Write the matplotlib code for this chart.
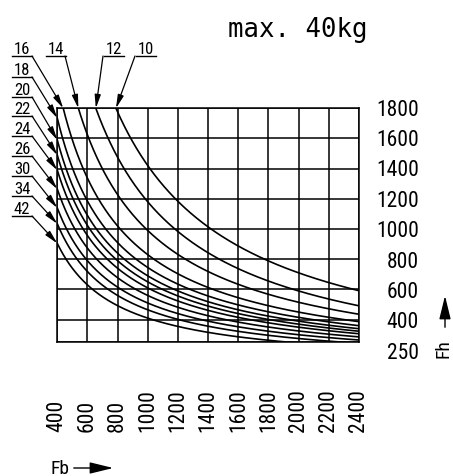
import numpy as np
import matplotlib
matplotlib.use("Agg")
import matplotlib.pyplot as plt
from matplotlib import font_manager as fm
from matplotlib.transforms import blended_transform_factory

# ---------------- data ----------------
thickness = [10, 12, 14, 16, 18, 20, 22, 24, 26, 30, 34, 42]          # curve labels
curve_a = [1.42e6, 1.18e6, 0.95e6, 0.76e6, 0.66e6, 0.60e6,
           0.56e6, 0.52e6, 0.47e6, 0.42e6, 0.38e6, 0.33e6]          # hyperbolic part
curve_c = [0, 0, 40, 70, 85, 90, 90, 90, 90, 90, 85, 80]             # offset part
fb_ticks = [400, 600, 800, 1000, 1200, 1400, 1600, 1800, 2000, 2200, 2400]
fh_ticks = [1800, 1600, 1400, 1200, 1000, 800, 600, 400, 250]
top_labels = ["16", "14", "12", "10"]
left_labels = ["18", "20", "22", "24", "26", "30", "34", "42"]
title = "max. 40kg"
xlabel = "Fb"
ylabel = "Fh"


# ---------- pick a narrow sans font if one is installed ----------
def pick_font():
    prefs = ["liberation sans narrow", "roboto condensed", "noto sans",
             "open sans", "dejavu sans", "arimo"]
    best = None
    for f in fm.fontManager.ttflist:
        name = f.name.lower()
        st = str(f.stretch).lower()
        narrow = ("narrow" in name or "condensed" in name or "condensed" in st
                  or "narrow" in f.fname.lower() or "condensed" in f.fname.lower())
        if not narrow:
            continue
        if f.style != "normal":
            continue
        w = f.weight if isinstance(f.weight, int) else {"normal": 400, "regular": 400,
                                                          "light": 300, "book": 400}.get(str(f.weight).lower(), 700)
        if w > 450 or w < 250:
            continue
        if "extra" in f.fname.lower() or "semi" in f.fname.lower() or "mono" in name:
            continue
        rank = next((i for i, p in enumerate(prefs) if p in name), len(prefs))
        key = (rank, abs(w - 400))
        if best is None or key < best[0]:
            best = (key, f.fname)
    if best:
        return fm.FontProperties(fname=best[1]), True
    return fm.FontProperties(family=["Roboto", "DejaVu Sans"]), False


FP, NARROW = pick_font()

W, H = 453, 477
fig = plt.figure(figsize=(W / 100, H / 100), dpi=100)

TICK_SIZE = 15.5 if NARROW else 13
LAB_SIZE = 12 if NARROW else 10
AX_SIZE = 14 if NARROW else 12


def fx(x):
    return x / W


def fy(y):
    return 1 - y / H


L, R, T, B = 57.3, 359.0, 109.3, 343.3
ax = fig.add_axes([fx(L), fy(B), fx(R) - fx(L), fy(T) - fy(B)])
ax.set_xlim(fb_ticks[0], fb_ticks[-1])
ax.set_ylim(min(fh_ticks), max(fh_ticks))
ax.set_xticks([])
ax.set_yticks([])
for s in ax.spines.values():
    s.set_linewidth(1.1)
    s.set_color("black")

for v in fb_ticks:
    ax.axvline(v, color="black", lw=1.1, zorder=1)
for v in fh_ticks:
    ax.axhline(v, color="black", lw=1.1, zorder=1)

fb = np.linspace(fb_ticks[0], fb_ticks[-1], 600)
for a, c in zip(curve_a, curve_c):
    ax.plot(fb, a / fb + c, color="black", lw=1.2, zorder=2)

# y labels (right side, evenly spaced)
for i, v in enumerate(fh_ticks):
    fig.text(fx(419), fy(110.0 + i * 30.4), str(v), ha="right", va="center",
             fontproperties=FP, fontsize=TICK_SIZE, color="black")

# x labels (rotated, bottom aligned)
tr = blended_transform_factory(ax.transData, fig.transFigure)
for v in fb_ticks:
    ax.text(v, fy(432), str(v), rotation=90, ha="center", va="bottom",
            fontproperties=FP, fontsize=TICK_SIZE, color="black",
            transform=tr, clip_on=False)

# title
fig.text(fx(228), fy(37), title, ha="left", va="baseline",
         fontsize=18.5, family=["DejaVu Sans Mono"], color="black")

# axis names with arrows
fig.text(fx(50), fy(474), xlabel, ha="left", va="baseline",
         fontproperties=FP, fontsize=AX_SIZE)
fig.add_artist(matplotlib.patches.FancyArrowPatch(
    (fx(71), fy(469)), (fx(116), fy(469)), transform=fig.transFigure,
    arrowstyle="-|>,head_length=0.9,head_width=0.22", mutation_scale=16,
    lw=1.0, color="black"))
fig.text(fx(444), fy(358), ylabel, ha="center", va="bottom", rotation=90,
         fontproperties=FP, fontsize=AX_SIZE)
fig.add_artist(matplotlib.patches.FancyArrowPatch(
    (fx(445), fy(331)), (fx(445), fy(294)), transform=fig.transFigure,
    arrowstyle="-|>,head_length=0.9,head_width=0.22", mutation_scale=16,
    lw=1.0, color="black"))

# curve labels with leaders
amap = dict(zip([str(t) for t in thickness], curve_a))
cmap = dict(zip([str(t) for t in thickness], curve_c))
arrow_kw = dict(arrowstyle="-|>,head_length=0.8,head_width=0.18",
                mutation_scale=10, lw=0.9, color="black", shrinkA=0, shrinkB=0)

top_pos = {"16": (22, 32), "14": (56, 65), "12": (114, 103), "10": (146, 135)}
fh_top = max(fh_ticks)
for lab in top_labels:
    cx, lx = top_pos[lab]
    fig.text(fx(cx), fy(54), lab, ha="center", va="baseline",
             fontproperties=FP, fontsize=LAB_SIZE)
    fig.add_artist(matplotlib.lines.Line2D([fx(cx - 10), fx(cx + 10)],
                                           [fy(57), fy(57)], color="black", lw=1.0))
    tip_x = max(amap[lab] / (fh_top - cmap[lab]), fb_ticks[0])
    ax.annotate("", xy=(tip_x, fh_top), xytext=(fx(lx), fy(57)),
                textcoords="figure fraction", arrowprops=arrow_kw,
                annotation_clip=False)

left_under = [78, 98, 117, 137, 157, 177, 197, 217]
for lab, uy in zip(left_labels, left_under):
    fig.text(fx(22), fy(uy - 3), lab, ha="center", va="baseline",
             fontproperties=FP, fontsize=LAB_SIZE)
    fig.add_artist(matplotlib.lines.Line2D([fx(12), fx(32)], [fy(uy), fy(uy)],
                                           color="black", lw=1.0))
    ax.annotate("", xy=(fb_ticks[0], amap[lab] / fb_ticks[0] + cmap[lab]),
                xytext=(fx(32), fy(uy)), textcoords="figure fraction",
                arrowprops=arrow_kw, annotation_clip=False)

fig.savefig("out.png", dpi=100, facecolor="white")
